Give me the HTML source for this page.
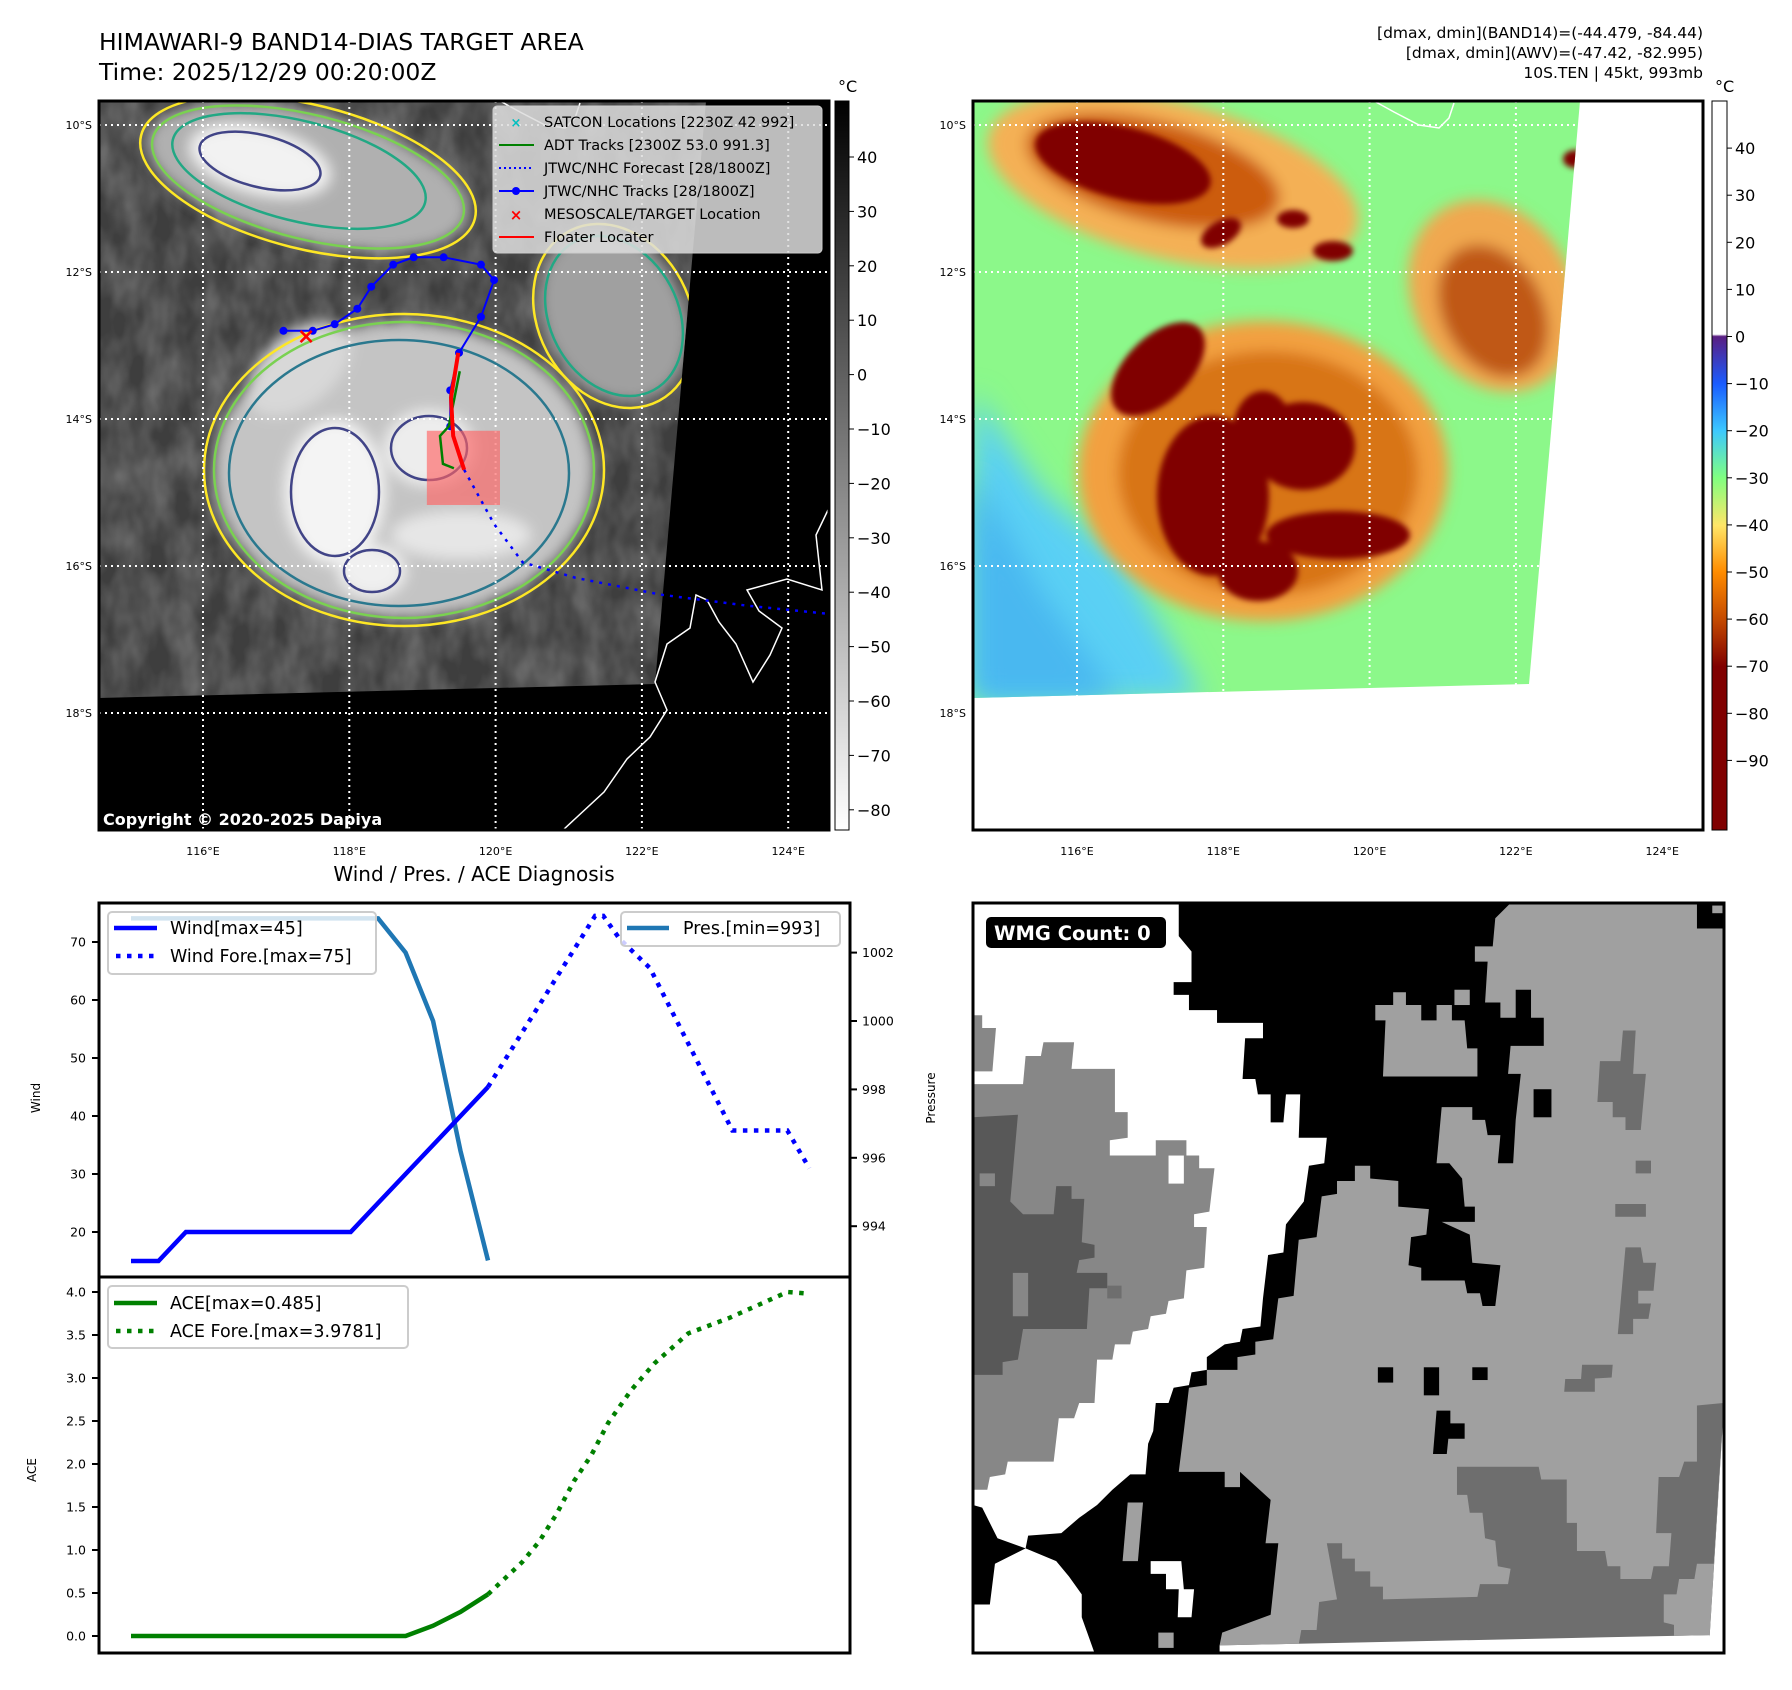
<!DOCTYPE html>
<html><head><meta charset="utf-8">
<style>
html,body{margin:0;padding:0;background:#fff;}
svg{display:block;font-family:"DejaVu Sans","Liberation Sans",sans-serif;}
</style></head>
<body>
<svg id="fig" width="1792" height="1690" viewBox="0 0 1792 1690" xmlns="http://www.w3.org/2000/svg">
<defs>
  <clipPath id="clipData1"><polygon points="99,101 706,101 655,684 99,698"/></clipPath>
  <clipPath id="clipMap1"><rect x="99" y="101" width="730" height="729"/></clipPath>
  <clipPath id="clipData2"><polygon points="973,101 1580,101 1529,684 973,698"/></clipPath>
  <clipPath id="clipMap2"><rect x="973" y="101" width="730" height="729"/></clipPath>
  <clipPath id="clipWind"><rect x="99" y="903" width="751" height="374"/></clipPath>
  <clipPath id="clipAce"><rect x="99" y="1277" width="751" height="376"/></clipPath>
  <clipPath id="clipWmg"><rect x="973" y="903" width="751" height="750"/></clipPath>
  <filter id="blur6" x="-20%" y="-20%" width="140%" height="140%"><feGaussianBlur stdDeviation="7"/></filter>
  <filter id="blur12" x="-30%" y="-30%" width="160%" height="160%"><feGaussianBlur stdDeviation="14"/></filter>
  <filter id="blur3" x="-20%" y="-20%" width="140%" height="140%"><feGaussianBlur stdDeviation="3"/></filter>
  <filter id="noise1" x="0" y="0" width="100%" height="100%">
    <feTurbulence type="fractalNoise" baseFrequency="0.035 0.02" numOctaves="3" seed="4"/>
    <feColorMatrix type="matrix" values="0 0 0 0 0.45  0 0 0 0 0.45  0 0 0 0 0.45  0 0 0 0.7 -0.2"/>
  </filter>
  <linearGradient id="cbGray" x1="0" y1="0" x2="0" y2="1">
    <stop offset="0" stop-color="#000"/><stop offset="1" stop-color="#fff"/>
  </linearGradient>
  <linearGradient id="cbAwv" x1="0" y1="0" x2="0" y2="1">
    <stop offset="0" stop-color="#ffffff"/>
    <stop offset="0.320" stop-color="#ffffff"/>
    <stop offset="0.323" stop-color="#5a1e82"/>
    <stop offset="0.388" stop-color="#1a5cff"/>
    <stop offset="0.452" stop-color="#3cc8ff"/>
    <stop offset="0.517" stop-color="#80ff80"/>
    <stop offset="0.582" stop-color="#ffe668"/>
    <stop offset="0.646" stop-color="#ff8c00"/>
    <stop offset="0.711" stop-color="#c44a00"/>
    <stop offset="0.776" stop-color="#800000"/>
    <stop offset="1" stop-color="#800000"/>
  </linearGradient>
</defs>

<!-- Titles -->
<text x="99" y="50" font-size="23.5" fill="#000">HIMAWARI-9 BAND14-DIAS TARGET AREA</text>
<text x="99" y="80" font-size="23.5" fill="#000">Time: 2025/12/29 00:20:00Z</text>
<g font-size="15.5" text-anchor="end" fill="#000">
  <text x="1703" y="38">[dmax, dmin](BAND14)=(-44.479, -84.44)</text>
  <text x="1703" y="58">[dmax, dmin](AWV)=(-47.42, -82.995)</text>
  <text x="1703" y="78">10S.TEN | 45kt, 993mb</text>
</g>

<!-- MAP 1 -->
<g>
  <rect x="99" y="101" width="730" height="729" fill="#000"/>
  <g clip-path="url(#clipData1)">
    <rect x="99" y="101" width="610" height="600" fill="#3e3e3e"/>
    <rect x="99" y="101" width="610" height="600" filter="url(#noise1)"/>
    <g transform="translate(99,101)" filter="url(#blur6)">
      <ellipse cx="209" cy="76" rx="165" ry="65" transform="rotate(14 209 76)" fill="#b0b0b0"/>
      <ellipse cx="515" cy="215" rx="70" ry="90" transform="rotate(-28 515 215)" fill="#a0a0a0"/>
      <ellipse cx="305" cy="369" rx="190" ry="148" fill="#c4c4c4"/>
      <ellipse cx="200" cy="268" rx="60" ry="36" transform="rotate(-40 200 268)" fill="#d8d8d8"/>
      <ellipse cx="161" cy="60" rx="72" ry="33" transform="rotate(14 161 60)" fill="#f2f2f2"/>
      <ellipse cx="236" cy="391" rx="50" ry="72" fill="#f4f4f4"/>
      <ellipse cx="330" cy="347" rx="45" ry="38" fill="#ededed"/>
      <ellipse cx="273" cy="470" rx="34" ry="26" fill="#f0f0f0"/>
      <ellipse cx="362" cy="434" rx="70" ry="24" fill="#e6e6e6"/>
    </g>
    <g transform="translate(99,101)" fill="none" stroke-width="2.5">
      <ellipse cx="209" cy="76" rx="172" ry="72" transform="rotate(14 209 76)" stroke="#fde725"/>
      <ellipse cx="209" cy="76" rx="160" ry="62" transform="rotate(14 209 76)" stroke="#7ad151"/>
      <ellipse cx="200" cy="70" rx="130" ry="50" transform="rotate(14 200 70)" stroke="#22a884"/>
      <ellipse cx="161" cy="60" rx="62" ry="26" transform="rotate(14 161 60)" stroke="#414487"/>
      <ellipse cx="515" cy="215" rx="76" ry="96" transform="rotate(-28 515 215)" stroke="#fde725"/>
      <ellipse cx="515" cy="215" rx="64" ry="84" transform="rotate(-28 515 215)" stroke="#22a884"/>
      <ellipse cx="305" cy="369" rx="200" ry="156" stroke="#fde725"/>
      <ellipse cx="305" cy="369" rx="190" ry="148" stroke="#7ad151"/>
      <ellipse cx="300" cy="372" rx="170" ry="133" stroke="#2a788e"/>
      <ellipse cx="236" cy="391" rx="44" ry="64" stroke="#414487"/>
      <ellipse cx="330" cy="347" rx="38" ry="32" stroke="#414487"/>
      <ellipse cx="273" cy="470" rx="28" ry="21" stroke="#414487"/>
    </g>
  </g>
  <polyline points="828,510 816,535 822,590 787,579 747,590 759,611 782,628 770,655 753,682 736,644 719,622 707,600 696,595 690,628 667,644 655,682 667,710 650,737 627,759 604,792 563,830" fill="none" stroke="#fff" stroke-width="1.5" clip-path="url(#clipMap1)"/>
  <polyline points="500,101 520,112 545,125 565,128 575,118 580,103" fill="none" stroke="#fff" stroke-width="1.5" clip-path="url(#clipMap1)"/>
  <g id="grid1"></g>
  <g id="tracks1" clip-path="url(#clipMap1)"></g>
  <text x="103" y="825" font-size="16" font-weight="bold" fill="#fff">Copyright © 2020-2025 Dapiya</text>
  <g>
    <rect x="493" y="106" width="329" height="147" rx="4" fill="#ddd" fill-opacity="0.85" stroke="#ccc"/>
    <g font-size="14.5" fill="#000">
      <text x="544" y="127">SATCON Locations [2230Z 42 992]</text>
      <text x="544" y="150">ADT Tracks [2300Z 53.0 991.3]</text>
      <text x="544" y="173">JTWC/NHC Forecast [28/1800Z]</text>
      <text x="544" y="196">JTWC/NHC Tracks [28/1800Z]</text>
      <text x="544" y="219">MESOSCALE/TARGET Location</text>
      <text x="544" y="242">Floater Locater</text>
    </g>
    <text x="516" y="127" font-size="13" font-weight="bold" fill="#00bfbf" text-anchor="middle">×</text>
    <line x1="499" y1="145" x2="534" y2="145" stroke="#008000" stroke-width="2"/>
    <line x1="499" y1="168" x2="534" y2="168" stroke="#0000ff" stroke-width="2" stroke-dasharray="2 3"/>
    <line x1="499" y1="191" x2="534" y2="191" stroke="#0000ff" stroke-width="2"/><circle cx="516" cy="191" r="4" fill="#0000ff"/>
    <text x="516" y="220" font-size="15" font-weight="bold" fill="#ff0000" text-anchor="middle">×</text>
    <line x1="499" y1="237" x2="534" y2="237" stroke="#ff0000" stroke-width="2"/>
  </g>
  <rect x="99" y="101" width="730" height="729" fill="none" stroke="#000" stroke-width="3"/>
</g>
<g>
  <rect x="835" y="101" width="14" height="729" fill="url(#cbGray)" stroke="#000" stroke-width="1"/>
  <text x="838" y="92" font-size="16">°C</text>
  <g id="cb1ticks"></g>
</g>

<!-- MAP 2 -->
<g>
  <rect x="973" y="101" width="730" height="729" fill="#fff"/>
  <g clip-path="url(#clipData2)">
    <rect x="973" y="101" width="610" height="600" fill="#8cf88a"/>
    <polygon points="973,392 973,700 1203,700 1123,560 1043,492" fill="#5ad0f4" filter="url(#blur12)"/>
    <polygon points="973,470 973,700 1120,700 1040,590" fill="#48b8f0" filter="url(#blur12)"/>
    <g transform="translate(973,101)" filter="url(#blur6)">
      <ellipse cx="200" cy="80" rx="190" ry="78" transform="rotate(14 200 80)" fill="#f4b055"/>
      <ellipse cx="520" cy="195" rx="80" ry="100" transform="rotate(-28 520 195)" fill="#f0a850"/>
      <ellipse cx="290" cy="370" rx="185" ry="150" fill="#f2a040"/>
      <ellipse cx="295" cy="372" rx="150" ry="122" fill="#d87418"/>
      <ellipse cx="180" cy="70" rx="130" ry="50" transform="rotate(14 180 70)" fill="#cc5c10"/>
      <ellipse cx="520" cy="210" rx="50" ry="70" transform="rotate(-28 520 210)" fill="#c05818"/>
    </g>
    <g transform="translate(973,101)" filter="url(#blur3)" fill="#800000">
      <ellipse cx="150" cy="62" rx="90" ry="36" transform="rotate(14 150 62)"/>
      <ellipse cx="248" cy="132" rx="22" ry="12" transform="rotate(-30 248 132)"/>
      <ellipse cx="320" cy="118" rx="16" ry="9"/>
      <ellipse cx="360" cy="150" rx="20" ry="10"/>
      <ellipse cx="602" cy="58" rx="12" ry="9"/>
      <ellipse cx="185" cy="268" rx="58" ry="32" transform="rotate(-45 185 268)"/>
      <ellipse cx="240" cy="395" rx="56" ry="80"/>
      <ellipse cx="330" cy="345" rx="52" ry="44"/>
      <ellipse cx="285" cy="470" rx="40" ry="30"/>
      <ellipse cx="365" cy="434" rx="72" ry="24"/>
      <ellipse cx="290" cy="330" rx="30" ry="40"/>
    </g>
  </g>
  <polyline points="1374,101 1394,112 1419,125 1439,128 1449,118 1454,103" fill="none" stroke="#fff" stroke-width="1.5" clip-path="url(#clipMap2)"/>
  <g id="grid2"></g>
  <rect x="973" y="101" width="730" height="729" fill="none" stroke="#000" stroke-width="3"/>
</g>
<g>
  <rect x="1712" y="101" width="15" height="729" fill="url(#cbAwv)" stroke="#000" stroke-width="1"/>
  <text x="1715" y="92" font-size="16">°C</text>
  <g id="cb2ticks"></g>
</g>

<!-- WIND / PRES / ACE -->
<text x="474" y="881" font-size="20" text-anchor="middle">Wind / Pres. / ACE Diagnosis</text>
<g id="windChart"></g>
<g id="aceChart"></g>

<!-- WMG -->
<g>
  <rect x="973" y="903" width="751" height="750" fill="#fff"/>
  <g clip-path="url(#clipWmg)">
  <g transform="translate(973,903) scale(0.51054,0.5102) translate(-27,-45)">
    <polygon fill="#000" points="430,45 1498,45 1498,1515 265,1515 240,1445 240,1400 215,1365 190,1335 130,1310 70,1340 60,1420 27,1420 27,1225 45,1230 75,1290 130,1310 135,1285 200,1280 235,1250 270,1225 300,1195 335,1165 365,1165 370,1105 380,1080 385,1025 410,1025 420,995 450,990 455,965 485,960 485,935 520,910 550,905 555,880 590,875 595,820 605,735 635,730 640,675 675,630 685,560 715,555 720,505 665,505 668,420 640,420 635,475 610,475 610,420 585,420 580,390 555,390 560,310 595,310 595,280 505,280 505,255 450,255 450,225 420,225 420,200 455,200 455,140 430,110"/>
    <polygon fill="#a0a0a0" points="1080,45 1445,45 1445,95 1498,95 1498,1025 1470,1480 510,1500 515,1475 610,1440 625,1300 600,1300 610,1215 550,1160 550,1190 520,1190 520,1160 430,1160 440,1080 450,995 485,990 485,960 545,960 545,935 580,930 580,905 615,900 625,820 655,815 665,705 700,700 710,620 740,615 740,590 775,590 775,560 805,560 805,585 860,590 860,640 920,645 915,695 885,700 880,755 905,760 905,785 990,785 995,810 1020,810 1025,835 1050,835 1060,755 1005,750 1000,695 945,670 1010,670 1010,640 990,640 985,585 960,555 935,555 945,445 1005,445 1005,470 1030,470 1035,500 1060,500 1055,555 1085,555 1090,470 1100,380 1075,380 1080,325 1145,325 1145,270 1120,270 1120,215 1090,215 1090,270 1060,270 1060,240 1030,240 1035,160 1010,160 1010,130 1045,130 1050,75"/>
    <polygon fill="#a0a0a0" points="815,245 850,245 850,220 875,220 875,245 905,245 905,275 935,275 935,245 965,245 965,275 990,275 995,330 1015,330 1015,385 830,385 835,275 815,275"/>
    <rect x="970" y="215" width="30" height="30" fill="#a0a0a0"/>
    <rect x="1475" y="50" width="20" height="15" fill="#a0a0a0"/>
    <g fill="#000">
      <rect x="1125" y="410" width="35" height="55"/>
      <rect x="820" y="955" width="30" height="30"/>
      <rect x="910" y="955" width="30" height="55"/>
      <rect x="1005" y="955" width="30" height="25"/>
      <polygon points="935,1040 962,1040 962,1065 990,1065 990,1095 958,1095 955,1125 928,1125"/>
    </g>
    <polygon fill="#878787" points="27,265 45,265 45,290 72,290 65,375 27,375"/>
    <polygon fill="#878787" points="27,400 125,400 130,345 160,345 165,318 225,318 220,370 305,370 305,455 330,455 330,505 295,510 295,540 385,540 385,510 445,510 445,540 470,540 470,565 500,565 490,650 460,655 460,680 485,680 480,760 445,765 440,820 410,825 405,850 375,855 370,880 340,885 335,910 305,910 300,940 270,940 265,1025 235,1025 225,1055 195,1055 185,1140 95,1140 90,1165 60,1170 55,1195 27,1195"/>
    <rect x="410" y="540" width="30" height="55" fill="#fff"/>
    <polygon fill="#585858" points="27,465 115,460 100,630 125,655 185,655 190,600 220,600 220,625 245,625 240,710 265,715 265,740 235,745 230,770 290,770 290,800 255,800 250,880 125,880 115,940 85,945 85,970 27,970"/>
    <rect x="105" y="770" width="30" height="85" fill="#878787"/>
    <rect x="40" y="575" width="30" height="25" fill="#878787"/>
    <rect x="290" y="795" width="28" height="25" fill="#6e6e6e"/>
    <polygon fill="#a0a0a0" points="330,1220 360,1220 350,1335 320,1335"/>
    <polygon fill="#fff" points="375,1335 435,1335 440,1390 460,1390 455,1445 428,1445 430,1390 405,1390 405,1360 375,1360"/>
    <rect x="390" y="1475" width="30" height="30" fill="#a0a0a0"/>
    <polygon fill="#6e6e6e" points="975,1150 1135,1150 1140,1175 1190,1175 1190,1260 1210,1260 1210,1315 1265,1315 1270,1345 1295,1345 1295,1370 1355,1370 1360,1345 1390,1345 1395,1280 1365,1280 1370,1170 1410,1170 1420,1140 1445,1140 1445,1030 1498,1025 1478,1340 1445,1340 1440,1370 1410,1370 1405,1400 1380,1400 1380,1455 1400,1460 1400,1485 665,1498 670,1470 700,1470 705,1415 740,1410 720,1300 750,1300 750,1330 775,1330 775,1355 805,1355 805,1385 830,1385 830,1410 1015,1405 1020,1380 1075,1380 1080,1350 1055,1345 1050,1295 1030,1290 1025,1240 1000,1240 995,1205 975,1205"/>
    <polygon fill="#6e6e6e" points="1300,295 1325,295 1320,380 1345,380 1335,490 1305,490 1305,465 1280,465 1280,435 1250,435 1255,355 1295,355"/>
    <polygon fill="#6e6e6e" points="1305,720 1335,720 1340,750 1365,750 1360,805 1330,805 1330,830 1355,830 1350,860 1320,860 1320,890 1290,890"/>
    <rect x="1325" y="550" width="30" height="25" fill="#6e6e6e"/>
    <rect x="1285" y="635" width="60" height="25" fill="#6e6e6e"/>
    <polygon fill="#6e6e6e" points="1220,950 1280,950 1278,975 1245,977 1245,1003 1185,1003 1187,978 1218,978"/>
    <polygon fill="#fff" points="1498,1025 1498,1515 1465,1515 1470,1480"/>
    <polygon fill="#fff" points="510,1500 1470,1480 1470,1520 510,1520"/>
  </g>
  </g>
  <g>
    <rect x="986" y="917" width="180" height="31" rx="5" fill="#000"/>
    <text x="994" y="940" font-size="19.5" font-weight="bold" fill="#fff">WMG Count: 0</text>
  </g>
  <rect x="973" y="903" width="751" height="750" fill="none" stroke="#000" stroke-width="3"/>
</g>

<script>
// ---------- chart data ----------
var obsTimes = [0,1,2,3,4,5,6,7,8,9,10,11,12,13];
var windObs = [15,15,20,20,20,20,20,20,20,25,30,35,40,45];
var presObs = [1003,1003,1003,1003,1003,1003,1003,1003,1003,1003,1002,1000,996.2,993];
var aceObs = [0,0,0,0,0,0,0,0,0,0,0,0.12,0.28,0.485];
var foreTimes = [13,16.9,17.2,17.8,18.9,21.9,23.9,24.7];
var windFore = [45,74.5,74.5,70.5,65.5,37.5,37.5,31];
var aceForeTimes = [13,14.25,14.87,15.5,16.13,16.76,17.38,18.22,19.06,20.3,21.8,23.2,23.9,24.7];
var aceFore = [0.485,0.86,1.1,1.42,1.8,2.1,2.48,2.86,3.17,3.52,3.7,3.9,4.0,3.98];
var windTicks = [20,30,40,50,60,70];
var presTicks = [994,996,998,1000,1002];
var aceTicks = [0,0.5,1,1.5,2,2.5,3,3.5,4];
var aceTickLabels = ["0.0","0.5","1.0","1.5","2.0","2.5","3.0","3.5","4.0"];
// ---------- map data ----------
var latTicks = [10,12,14,16,18];
var lonTicks = [116,118,120,122,124];
var trackLon = [117.10,117.50,117.80,118.11,118.30,118.60,118.88,119.29,119.80,119.98,119.80,119.50,119.38,119.38];
var trackLat = [-12.80,-12.80,-12.71,-12.50,-12.20,-11.90,-11.80,-11.80,-11.90,-12.11,-12.61,-13.10,-13.61,-14.10];
var foreLon = [119.57,119.98,120.37,121.09,122.26,123.44,124.54,125.2];
var foreLat = [-14.69,-15.43,-15.95,-16.16,-16.39,-16.54,-16.65,-16.7];
var floaterLon = [119.49,119.39,119.42,119.57];
var floaterLat = [-13.10,-13.71,-14.23,-14.69];
var adtLon = [119.51,119.36,119.24,119.28,119.43];
var adtLat = [-13.35,-14.10,-14.23,-14.61,-14.67];
var targetLon = 117.41, targetLat = -12.88;
var boxLon = [119.06,120.06], boxLat = [-14.16,-15.17];
var cb1Ticks = [40,30,20,10,0,-10,-20,-30,-40,-50,-60,-70,-80];
var cb2Ticks = [40,30,20,10,0,-10,-20,-30,-40,-50,-60,-70,-80,-90];

var NS = "http://www.w3.org/2000/svg";
function mk(tag, attrs, parent){var e=document.createElementNS(NS,tag);for(var k in attrs)e.setAttribute(k,attrs[k]);parent.appendChild(e);return e;}
function txt(s, attrs, parent){var e=mk("text",attrs,parent);e.textContent=s;return e;}

function mx(lon, off){return 203 + (lon-116)*73.15 + (off||0);}
function my(lat){return 125 + (-lat-10)*73.5;}

function grid(id, off, left){
  var g=document.getElementById(id);
  latTicks.forEach(function(l){
    var y=my(-l);
    var ln=mk("line",{x1:left,y1:y,x2:left+730,y2:y,stroke:"#fff","stroke-width":2,"stroke-dasharray":"2 4"},g);
    
    
    var t=txt(l+"°S",{x:left-7,y:y+4,"font-size":11,"text-anchor":"end"},g);
    
    
  });
  lonTicks.forEach(function(l){
    var x=mx(l,off);
    var ln=mk("line",{x1:x,y1:101,x2:x,y2:830,stroke:"#fff","stroke-width":2,"stroke-dasharray":"2 4"},g);
    
    
    var t=txt(l+"°E",{x:x,y:855,"font-size":11,"text-anchor":"middle"},g);
    
    
  });
}
grid("grid1",0,99);
grid("grid2",874,973);

(function(){
  var g=document.getElementById("tracks1");
  var bx=mk("rect",{x:mx(boxLon[0]),y:my(boxLat[0]),width:mx(boxLon[1])-mx(boxLon[0]),height:my(boxLat[1])-my(boxLat[0]),fill:"#ff6464","fill-opacity":0.65},g);
  
  
  function pts(lo,la){return lo.map(function(v,i){return mx(v)+","+my(la[i]);}).join(" ");}
  var fc=mk("polyline",{points:pts(foreLon,foreLat),fill:"none",stroke:"#0000ff","stroke-width":2.5,"stroke-dasharray":"3 6"},g);
  
  
  var tr=mk("polyline",{points:pts(trackLon,trackLat),fill:"none",stroke:"#0000ff","stroke-width":2},g);
  
  
  trackLon.forEach(function(v,i){
    var c=mk("circle",{cx:mx(v),cy:my(trackLat[i]),r:4,fill:"#0000ff"},g);
    
    
  });
  var ad=mk("polyline",{points:pts(adtLon,adtLat),fill:"none",stroke:"#008000","stroke-width":2.5},g);
  
  
  var fl=mk("polyline",{points:pts(floaterLon,floaterLat),fill:"none",stroke:"#ff0000","stroke-width":4},g);
  
  
  var tx=txt("×",{x:mx(targetLon),y:my(targetLat)+7,"font-size":22,"font-weight":"bold",fill:"#ff0000","text-anchor":"middle"},g);
  
  
})();

(function(){
  var g1=document.getElementById("cb1ticks");
  cb1Ticks.forEach(function(v){
    var y=157+(40-v)*5.44;
    mk("line",{x1:849,y1:y,x2:854,y2:y,stroke:"#000","stroke-width":1},g1);
    var t=txt((v<0?"\u2212"+(-v):v),{x:857,y:y+6,"font-size":16},g1);
    
    
  });
  var g2=document.getElementById("cb2ticks");
  cb2Ticks.forEach(function(v){
    var y=101+(50-v)*4.71;
    mk("line",{x1:1727,y1:y,x2:1732,y2:y,stroke:"#000","stroke-width":1},g2);
    var t=txt((v<0?"\u2212"+(-v):v),{x:1735,y:y+6,"font-size":16},g2);
    
    
  });
})();

function X(t){return 131 + t*27.46;}
function Yw(v){return 1232 - (v-20)*5.8;}
function Yp(p){return 1089.4 - (p-998)*34.2;}
function Ya(a){return 1636 - a*86;}
function line(g, xs, ys, fx, fy, attrs, name){
  var p=xs.map(function(t,i){return fx(t).toFixed(1)+","+fy(ys[i]).toFixed(1);}).join(" ");
  attrs.points=p; attrs.fill="none";
  var e=mk("polyline",attrs,g);
  
  
  return e;
}
(function(){
  var g=document.getElementById("windChart");
  mk("rect",{x:99,y:903,width:751,height:374,fill:"#fff"},g);
  var c=mk("g",{"clip-path":"url(#clipWind)"},g);
  line(c,obsTimes,presObs,X,Yp,{stroke:"#1f77b4","stroke-width":4.5},"pressure-line");
  line(c,obsTimes,windObs,X,Yw,{stroke:"#0000ff","stroke-width":4.5},"wind-line");
  line(c,foreTimes,windFore,X,Yw,{stroke:"#0000ff","stroke-width":4.5,"stroke-dasharray":"4.5 6.5"},"wind-forecast-line");
  windTicks.forEach(function(v){
    var y=Yw(v);
    mk("line",{x1:92,y1:y,x2:99,y2:y,stroke:"#000","stroke-width":2},g);
    var t=txt(v,{x:86,y:y+4.5,"font-size":12.5,"text-anchor":"end"},g);
    
    
  });
  presTicks.forEach(function(v){
    var y=Yp(v);
    mk("line",{x1:850,y1:y,x2:857,y2:y,stroke:"#000","stroke-width":2},g);
    var t=txt(v,{x:862,y:y+4.5,"font-size":12.5},g);
    
    
  });
  var a=txt("Wind",{x:40,y:1098,"font-size":12,transform:"rotate(-90 40 1098)","text-anchor":"middle"},g);
  
  
  var b=txt("Pressure",{x:935,y:1098,"font-size":12,transform:"rotate(-90 935 1098)","text-anchor":"middle"},g);
  
  
  var lg=mk("g",{},g);
  
  
  mk("rect",{x:108,y:912,width:268,height:62,rx:4,fill:"#fff","fill-opacity":0.8,stroke:"#ccc","stroke-width":2},lg);
  mk("line",{x1:114,y1:928,x2:157,y2:928,stroke:"#0000ff","stroke-width":4.5},lg);
  mk("line",{x1:116,y1:956,x2:157,y2:956,stroke:"#0000ff","stroke-width":4.5,"stroke-dasharray":"4.5 6.5"},lg);
  txt("Wind[max=45]",{x:170,y:934,"font-size":17.5},lg);
  txt("Wind Fore.[max=75]",{x:170,y:962,"font-size":17.5},lg);
  var lg2=mk("g",{},g);
  
  
  mk("rect",{x:621,y:912,width:219,height:34,rx:4,fill:"#fff","fill-opacity":0.8,stroke:"#ccc","stroke-width":2},lg2);
  mk("line",{x1:627,y1:928,x2:669,y2:928,stroke:"#1f77b4","stroke-width":4.5},lg2);
  txt("Pres.[min=993]",{x:683,y:934,"font-size":17.5},lg2);
  mk("rect",{x:99,y:903,width:751,height:374,fill:"none",stroke:"#000","stroke-width":3},g);
})();
(function(){
  var g=document.getElementById("aceChart");
  var c=mk("g",{"clip-path":"url(#clipAce)"},g);
  line(c,obsTimes,aceObs,X,Ya,{stroke:"#008000","stroke-width":4.5},"ace-line");
  line(c,aceForeTimes,aceFore,X,Ya,{stroke:"#008000","stroke-width":4.5,"stroke-dasharray":"4.5 6.5"},"ace-forecast-line");
  aceTicks.forEach(function(v,i){
    var y=Ya(v);
    mk("line",{x1:92,y1:y,x2:99,y2:y,stroke:"#000","stroke-width":2},g);
    var t=txt(aceTickLabels[i],{x:86,y:y+4.5,"font-size":12.5,"text-anchor":"end"},g);
    
    
  });
  var a=txt("ACE",{x:36,y:1470,"font-size":12,transform:"rotate(-90 36 1470)","text-anchor":"middle"},g);
  
  
  var lg=mk("g",{},g);
  
  
  mk("rect",{x:108,y:1286,width:300,height:62,rx:4,fill:"#fff","fill-opacity":0.8,stroke:"#ccc","stroke-width":2},lg);
  mk("line",{x1:114,y1:1303,x2:157,y2:1303,stroke:"#008000","stroke-width":4.5},lg);
  mk("line",{x1:116,y1:1331,x2:157,y2:1331,stroke:"#008000","stroke-width":4.5,"stroke-dasharray":"4.5 6.5"},lg);
  txt("ACE[max=0.485]",{x:170,y:1309,"font-size":17.5},lg);
  txt("ACE Fore.[max=3.9781]",{x:170,y:1337,"font-size":17.5},lg);
  mk("rect",{x:99,y:1277,width:751,height:376,fill:"none",stroke:"#000","stroke-width":3},g);
})();
</script>
</svg>
</body></html>
